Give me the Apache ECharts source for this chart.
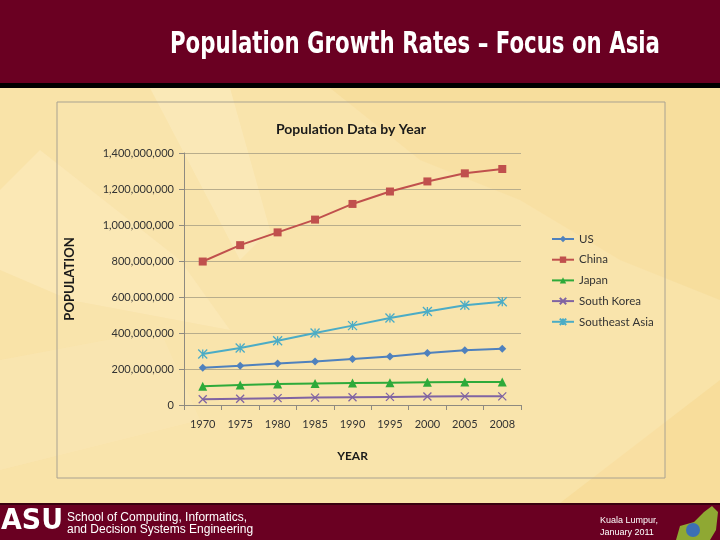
<!DOCTYPE html>
<html><head><meta charset="utf-8">
<script src="https://cdn.jsdelivr.net/npm/echarts@6/dist/echarts.min.js"></script>
<style>html,body{margin:0;padding:0;background:#F9E3A8;}#c{width:720px;height:540px;}</style>
</head><body><div id="c"></div>
<script>
var years = ['1970','1975','1980','1985','1990','1995','2000','2005','2008'];
var usPop = [207000000,218000000,231000000,241000000,256000000,270000000,289000000,304000000,313000000];
var chinaPop = [797000000,888000000,959000000,1030000000,1117000000,1186000000,1242000000,1287000000,1311000000];
var japanPop = [104000000,111000000,117000000,120000000,122000000,124000000,126000000,128000000,128000000];
var koreaPop = [31500000,35000000,38000000,41000000,43000000,45000000,47000000,48000000,48000000];
var seAsiaPop = [283000000,317000000,357000000,400000000,441000000,483000000,519000000,554000000,574000000];
var seriesNames = ['US','China','Japan','South Korea','Southeast Asia'];

var xPath = 'path://M0,0 L10,10 M10,0 L0,10';
var starPath = 'path://M0,0 L10,10 M10,0 L0,10 M5,0 L5,10';

function fmt(v){ return String(Math.round(v)).replace(/\B(?=(\d{3})+(?!\d))/g, ','); }

var headText = 'Population Growth Rates \u2013 Focus on Asia';
var headFont = 'bold 30px "DejaVu Sans", sans-serif';
var cv = document.createElement('canvas').getContext('2d');
cv.font = headFont;
var headScale = 490 / cv.measureText(headText).width;
var asuFont = 'bold 28px "DejaVu Sans", sans-serif';
cv.font = asuFont;
var asuScale = 62 / cv.measureText('ASU').width;

var chart = echarts.init(document.getElementById('c'), null, {renderer:'canvas'});
var font = 'Lato, "Open Sans", sans-serif';

function mk(name, data, color, symbol, size, sym2){
  return {name:name, type:'line', data:data, symbol:symbol, symbolSize:size,
    lineStyle:{color:color, width:2}, itemStyle:{color:color, borderColor:color, borderWidth: sym2?1.3:0},
    z:3, animation:false};
}

var option = {
  animation:false,
  backgroundColor:'#F9E3A8',
  graphic:[
    {type:'polygon', z:-10, shape:{points:[[0,88],[720,88],[720,503],[0,503]]}, style:{fill:'#F9E3A8'}},
    {type:'polygon', z:-9, shape:{points:[[40,150],[180,260],[230,330],[70,300],[0,270],[0,190]]}, style:{fill:'#FBE9B8', opacity:0.8}},
    {type:'polygon', z:-9, shape:{points:[[330,88],[720,88],[720,300],[620,260],[520,200],[420,160]]}, style:{fill:'#F7DC98', opacity:0.7}},
    {type:'polygon', z:-9, shape:{points:[[150,88],[230,88],[270,230],[240,260]]}, style:{fill:'#FBEBBE', opacity:0.7}},
    {type:'polygon', z:-9, shape:{points:[[0,360],[160,330],[200,420],[0,470]]}, style:{fill:'#FAE6B2', opacity:0.7}},
    {type:'polygon', z:-9, shape:{points:[[560,503],[720,380],[720,503]]}, style:{fill:'#F6D993', opacity:0.6}},
    {type:'rect', z:-5, shape:{x:0,y:0,width:720,height:83}, style:{fill:'#6A0022'}},
    {type:'rect', z:-5, shape:{x:0,y:83,width:720,height:5}, style:{fill:'#000000'}},
    {type:'text', z:10, x:170, y:30, scaleX:headScale, scaleY:1, style:{text:headText, fill:'#FFFFFF', font:headFont}},
    {type:'rect', z:-4, shape:{x:57,y:102,width:608,height:376}, style:{fill:'rgba(251,233,185,0.25)', stroke:'#A9A291', lineWidth:1}},
    {type:'rect', z:-5, shape:{x:0,y:503,width:720,height:37}, style:{fill:'#6A0022'}},
    {type:'rect', z:-5, shape:{x:0,y:503,width:720,height:2}, style:{fill:'#3A0010'}},
    {type:'text', z:10, x:1, y:508, scaleX:asuScale, scaleY:1, style:{text:'ASU', fill:'#FFFFFF', font:asuFont}},
    {type:'text', z:10, x:67, y:512, style:{text:'School of Computing, Informatics,\nand Decision Systems Engineering', fill:'#FFFFFF',
      font:'12px "Liberation Sans", Arial, sans-serif', lineHeight:12}},
    {type:'text', z:10, x:600, y:515, style:{text:'Kuala Lumpur,\nJanuary 2011', fill:'#FFFFFF',
      font:'9px "Liberation Sans", Arial, sans-serif', lineHeight:12}},
    {type:'polygon', z:9, shape:{points:[[676,540],[680,526],[694,522],[704,512],[712,506],[718,512],[716,530],[710,540]]}, style:{fill:'#8FA833'}},
    {type:'circle', z:10, shape:{cx:693,cy:530,r:7}, style:{fill:'#3C6FB5'}}
  ],
  title:{text:'Population Data by Year', left:346, top:117, textAlign:'center',
    textStyle:{fontFamily:font, fontSize:14, fontWeight:'bold', color:'#1a1a1a'}},
  legend:{orient:'vertical', left:546, top:228, itemGap:8.7, itemWidth:22, itemHeight:8,
    data:seriesNames, textStyle:{fontFamily:font, fontSize:11.5, color:'#333333'}},
  grid:{left:184, right:199, top:153, bottom:135, containLabel:false},
  xAxis:{type:'category', data:years, boundaryGap:true,
    name:'YEAR', nameLocation:'middle', nameGap:45,
    nameTextStyle:{fontFamily:font, fontSize:12, fontWeight:'bold', color:'#1a1a1a'},
    axisLine:{lineStyle:{color:'#8E8A80'}}, axisTick:{show:true, length:5, lineStyle:{color:'#8E8A80'}},
    axisLabel:{fontFamily:font, fontSize:11, color:'#333333', margin:14}},
  yAxis:{type:'value', min:0, max:1400000000, interval:200000000,
    name:'POPULATION', nameLocation:'middle', nameGap:108, nameRotate:90,
    nameTextStyle:{fontFamily:font, fontSize:13, fontWeight:'bold', color:'#1a1a1a'},
    axisLine:{show:true, lineStyle:{color:'#8E8A80'}}, axisTick:{show:true, length:5, lineStyle:{color:'#8E8A80'}},
    splitLine:{lineStyle:{color:'#B8AD8C', width:1}},
    axisLabel:{fontFamily:font, fontSize:11, color:'#333333', margin:10, formatter:fmt}},
  series:[
    mk('US', usPop, '#4F81BD', 'diamond', 8),
    mk('China', chinaPop, '#C0504D', 'rect', 8),
    mk('Japan', japanPop, '#2EAA3A', 'triangle', 9),
    mk('South Korea', koreaPop, '#8064A2', xPath, 8, true),
    mk('Southeast Asia', seAsiaPop, '#4BACC6', starPath, 9, true)
  ]
};
chart.setOption(option);
</script></body></html>
